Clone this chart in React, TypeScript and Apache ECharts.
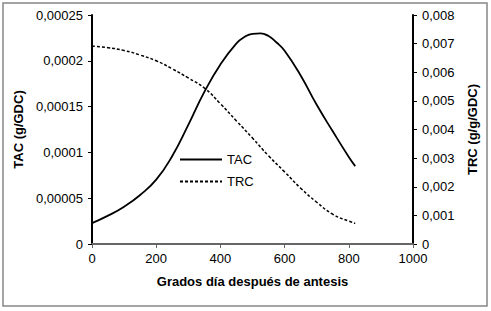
import React, { useEffect, useRef } from "react";
import * as echarts from "echarts";

const tacX = [0, 50, 100, 150, 200, 250, 300, 350, 400, 450, 475, 500, 525, 550, 575, 600, 650, 700, 750, 800, 820];
const tacValues = [
  0.0000228, 0.000031, 0.0000407, 0.0000535, 0.0000702, 0.000096, 0.00013, 0.000166, 0.000196,
  0.000219, 0.000226, 0.0002295, 0.00023, 0.000227, 0.00022, 0.000211, 0.000184, 0.000152, 0.000123,
  0.000095, 0.000085,
];
const trcX = [0, 50, 100, 150, 200, 250, 300, 350, 400, 450, 500, 550, 600, 650, 700, 750, 800, 820];
const trcValues = [
  0.00691, 0.00686, 0.00676, 0.0066, 0.0064, 0.00612, 0.0058, 0.00545, 0.0049, 0.0043, 0.0037,
  0.00308, 0.00252, 0.00195, 0.00146, 0.00104, 0.0008, 0.00072,
];
const seriesNames = ["TAC", "TRC"];
const xAxisTitle = "Grados día después de antesis";
const leftAxisTitle = "TAC (g/GDC)";
const rightAxisTitle = "TRC (g/g/GDC)";

const FONT = "'Liberation Sans', Arial, sans-serif";

const fmt = (v: number) => String(parseFloat(v.toFixed(6))).replace(".", ",");

export default function App() {
  const ref = useRef<HTMLDivElement>(null);
  useEffect(() => {
    if (!ref.current) return;
    const chart = echarts.init(ref.current, undefined, { renderer: "svg" });
    const axisLabel = { color: "#000", fontSize: 13, fontFamily: FONT, formatter: fmt };
    const nameStyle = { color: "#000", fontSize: 13, fontWeight: "bold" as const, fontFamily: FONT };
    chart.setOption({
      animation: false,
      backgroundColor: "#fff",
      textStyle: { fontFamily: FONT },
      grid: { left: 92, right: 78, top: 15, bottom: 67, containLabel: false },
      graphic: [
        {
          type: "rect",
          shape: { x: 3, y: 3, width: 484, height: 303 },
          style: { fill: "none", stroke: "#878787", lineWidth: 1.5 },
          silent: true,
        },
      ],
      legend: {
        orient: "vertical",
        left: 174,
        top: 148,
        itemWidth: 42,
        itemHeight: 12,
        itemGap: 9,
        data: seriesNames,
        itemStyle: { opacity: 0 },
        textStyle: { color: "#000", fontSize: 13, fontFamily: FONT },
      },
      xAxis: {
        type: "value",
        min: 0,
        max: 1000,
        interval: 200,
        name: xAxisTitle,
        nameLocation: "middle",
        nameGap: 31,
        nameTextStyle: nameStyle,
        axisLine: { lineStyle: { color: "#666", width: 2 } },
        axisTick: { show: true, length: 4, lineStyle: { color: "#666" } },
        axisLabel: { ...axisLabel, margin: 8, formatter: (v: number) => String(v) },
        splitLine: { show: false },
      },
      yAxis: [
        {
          type: "value",
          min: 0,
          max: 0.00025,
          interval: 0.00005,
          name: leftAxisTitle,
          nameLocation: "middle",
          nameGap: 51,
          nameTextStyle: nameStyle,
          axisLine: { show: true, lineStyle: { color: "#000", width: 2 } },
          axisTick: { show: true, length: 4, lineStyle: { color: "#000" } },
          axisLabel: { ...axisLabel, margin: 9 },
          splitLine: { show: false },
        },
        {
          type: "value",
          position: "right",
          min: 0,
          max: 0.008,
          interval: 0.001,
          name: rightAxisTitle,
          nameLocation: "middle",
          nameGap: 53,
          nameTextStyle: nameStyle,
          axisLine: { show: true, lineStyle: { color: "#000", width: 2 } },
          axisTick: { show: true, length: 4, lineStyle: { color: "#000" } },
          axisLabel: { ...axisLabel, margin: 9 },
          splitLine: { show: false },
        },
      ],
      series: [
        {
          name: seriesNames[0],
          type: "line",
          yAxisIndex: 0,
          smooth: 0.5,
          symbol: "none",
          lineStyle: { color: "#000", width: 1.8, type: "solid" },
          itemStyle: { color: "#000" },
          data: tacX.map((x, i) => [x, tacValues[i]]),
        },
        {
          name: seriesNames[1],
          type: "line",
          yAxisIndex: 1,
          smooth: 0.5,
          symbol: "none",
          lineStyle: { color: "#000", width: 1.5, type: [3, 2] },
          itemStyle: { color: "#000" },
          data: trcX.map((x, i) => [x, trcValues[i]]),
        },
      ],
    });
    return () => chart.dispose();
  }, []);
  return <div ref={ref} style={{ width: 491, height: 311, position: "absolute", left: 0, top: 0 }} />;
}
